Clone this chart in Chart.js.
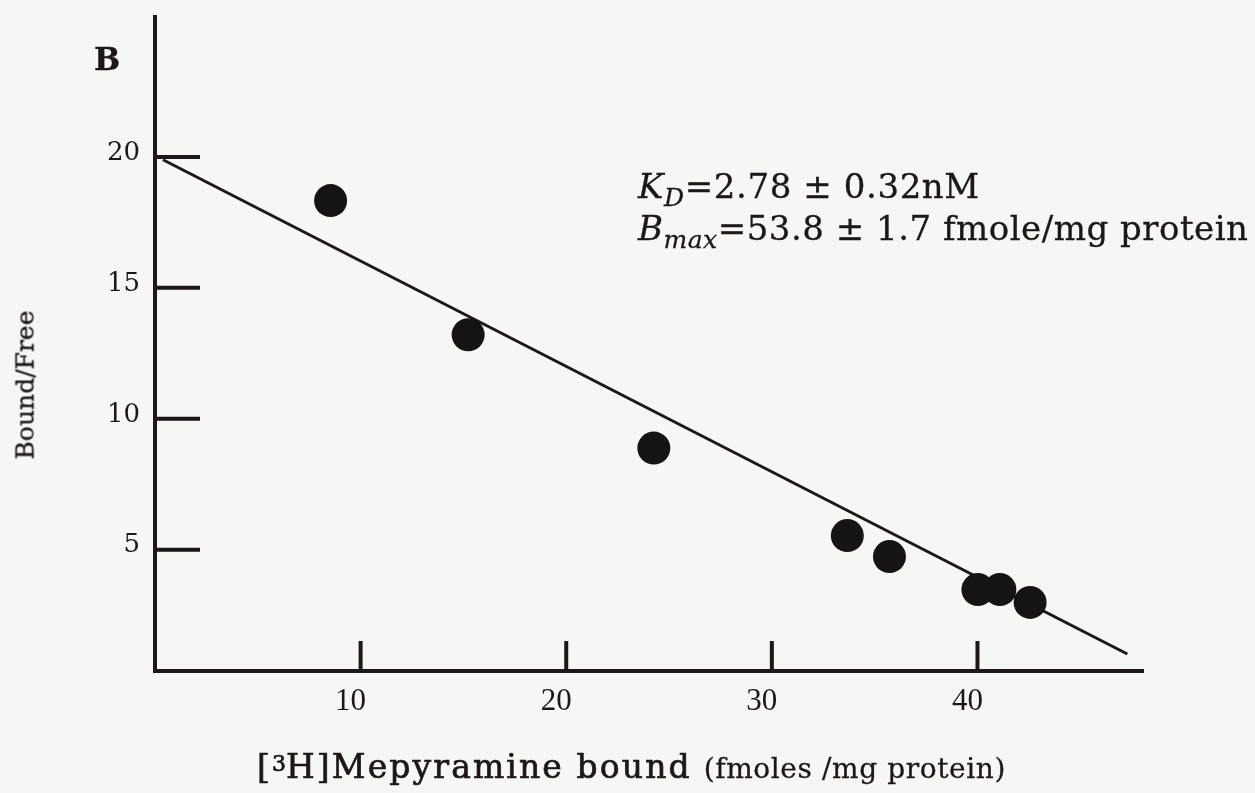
<!DOCTYPE html>
<html>
<head>
<meta charset="utf-8">
<script src="https://cdn.jsdelivr.net/npm/chart.js@4.4.1/dist/chart.umd.min.js"></script>
<style>
  html, body { margin: 0; padding: 0; background: #f6f6f4; }
  #wrap { position: relative; width: 1255px; height: 793px; overflow: hidden; }
  #chart { position: absolute; left: 0; top: 0; }
  .txt { position: absolute; font-family: "DejaVu Serif", serif; color: #1c1718; white-space: nowrap; line-height: 1; -webkit-text-stroke: 0.3px #1c1718; }
  sub, sup { line-height: 0; }
</style>
</head>
<body>
<div id="wrap">
  <canvas id="chart" width="1255" height="793"></canvas>
  <div class="txt" style="left:94px; top:44px; font-size:31px; font-weight:bold;">B</div>
  <div class="txt" style="left:25px; top:385px; font-size:25px; transform:translate(-50%,-50%) rotate(-90deg);">Bound/Free</div>
  <div class="txt" style="left:638px; top:169px; font-size:34px; letter-spacing:0.6px;"><i>K<sub style="font-size:25px">D</sub></i>=2.78 ± 0.32nM</div>
  <div class="txt" style="left:638px; top:211px; font-size:34px; letter-spacing:0.5px;"><i>B<sub style="font-size:25px">max</sub></i>=53.8 ± 1.7 fmole/mg protein</div>
  <div class="txt" style="left:257px; top:750px; font-size:33px; letter-spacing:2.1px; -webkit-text-stroke:0.7px #1c1718;">[<span style="font-size:22px; vertical-align:7px; letter-spacing:0;">3</span>H]Mepyramine bound<span style="letter-spacing:0.6px; font-size:28px; margin-left:12px; -webkit-text-stroke:0.3px #1c1718;">(fmoles /mg protein)</span></div>
</div>
<script>
// Scatchard plot, panel B
const boundValues = [8.54, 15.23, 24.26, 33.67, 35.72, 40.02, 41.09, 42.56];
const ratioValues = [18.33, 13.21, 8.88, 5.54, 4.74, 3.48, 3.48, 2.99];

// fitted regression line, ends
const fitBound = [0.39, 47.29];
const fitRatio = [19.89, 1.02];

const xTicks = [10, 20, 30, 40];
const yTicks = [5, 10, 15, 20];

const ink = "#1c1718";

// ticks in this figure point inwards, so they are drawn by hand
const innerTicks = {
  id: "innerTicks",
  afterDraw(chart) {
    const ctx = chart.ctx;
    const x = chart.scales.x;
    const y = chart.scales.y;
    ctx.save();
    ctx.strokeStyle = ink;
    ctx.lineWidth = 4;
    ctx.beginPath();
    yTicks.forEach(v => {
      const py = y.getPixelForValue(v);
      ctx.moveTo(x.left, py);
      ctx.lineTo(x.left + 45, py);
    });
    xTicks.forEach(v => {
      const px = x.getPixelForValue(v);
      ctx.moveTo(px, y.bottom);
      ctx.lineTo(px, y.bottom - 30);
    });
    ctx.stroke();
    ctx.restore();
  }
};

const ctx = document.getElementById("chart").getContext("2d");

new Chart(ctx, {
  type: "scatter",
  data: {
    datasets: [
      {
        label: "Fit",
        type: "line",
        data: fitBound.map((b, i) => ({ x: b, y: fitRatio[i] })),
        borderColor: ink,
        borderWidth: 3,
        pointRadius: 0,
        fill: false,
        order: 2
      },
      {
        label: "Binding",
        data: boundValues.map((b, i) => ({ x: b, y: ratioValues[i] })),
        backgroundColor: "#161314",
        borderColor: "#161314",
        borderWidth: 0,
        pointRadius: 16.5,
        order: 1
      }
    ]
  },
  options: {
    responsive: false,
    animation: false,
    devicePixelRatio: 1,
    layout: { padding: { top: 14, right: 112, left: 0, bottom: 0 } },
    plugins: {
      legend: { display: false },
      tooltip: { enabled: false }
    },
    scales: {
      x: {
        type: "linear",
        min: 0,
        max: 48.05,
        grid: { display: false },
        border: { display: true, color: ink, width: 4 },
        afterBuildTicks: scale => { scale.ticks = xTicks.map(v => ({ value: v })); },
        afterFit: scale => {
          scale.height = 122;
          scale.paddingLeft = 0;
          scale.paddingRight = 0;
        },
        ticks: {
          color: ink,
          padding: 4,
          labelOffset: -10,
          font: { family: "Liberation Serif", size: 31 }
        }
      },
      y: {
        type: "linear",
        min: 0.37,
        max: 25.36,
        grid: { display: false },
        border: { display: true, color: ink, width: 4 },
        afterBuildTicks: scale => { scale.ticks = yTicks.map(v => ({ value: v })); },
        afterFit: scale => {
          scale.width = 155;
          scale.paddingTop = 0;
          scale.paddingBottom = 0;
        },
        ticks: {
          color: ink,
          padding: 7,
          labelOffset: -4,
          font: { family: "DejaVu Serif", size: 26 }
        }
      }
    }
  },
  plugins: [innerTicks]
});
</script>
</body>
</html>
